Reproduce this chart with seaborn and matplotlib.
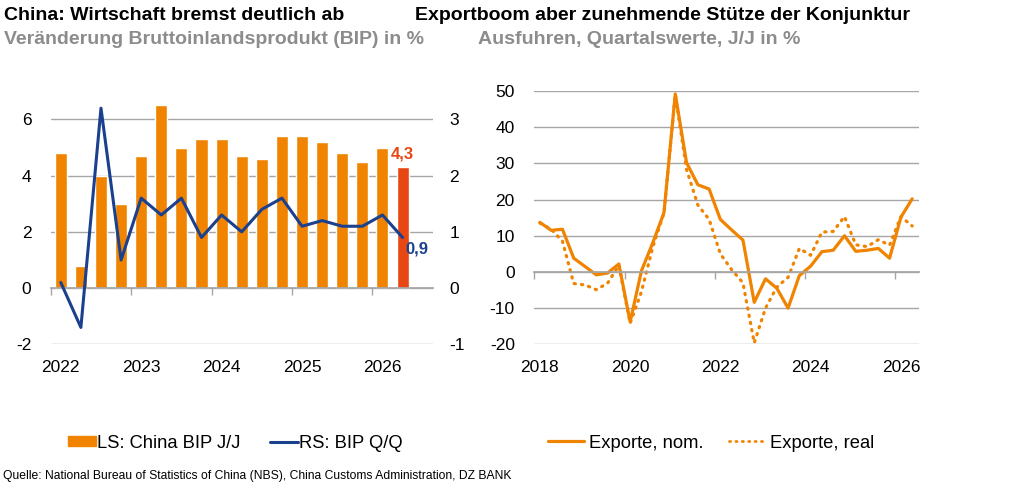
import matplotlib
matplotlib.use("Agg")
import matplotlib.pyplot as plt
import numpy as np
import pandas as pd
import seaborn as sns
from matplotlib.lines import Line2D
from matplotlib.patches import Patch

# Left chart: China GDP, quarterly 2022 Q1 .. 2026 Q2
bip_jj = [4.8, 0.8, 4.0, 3.0, 4.7, 6.5, 5.0, 5.3, 5.3, 4.7, 4.6, 5.4, 5.4, 5.2, 4.8, 4.5, 5.0, 4.3]
bip_qq = [0.1, -0.7, 3.2, 0.5, 1.6, 1.3, 1.6, 0.9, 1.3, 1.0, 1.4, 1.6, 1.1, 1.2, 1.1, 1.1, 1.3, 0.9]
left_years = ["2022", "2023", "2024", "2025", "2026"]

# Right chart: exports, quarterly 2018 Q1 .. 2026 Q2
exp_nom = [13.7, 11.5, 11.8, 3.8, 1.5, -0.8, -0.3, 2.2, -13.8, 0.3, 8.0, 16.4,
           49.2, 30.2, 24.1, 22.9, 14.5, 11.6, 8.8, -8.4, -1.9, -4.5, -10.0, -1.0,
           1.6, 5.6, 6.0, 10.0, 5.7, 6.0, 6.5, 3.8, 15.1, 20.2]
exp_real = [13.5, 11.8, 8.5, -3.2, -3.6, -4.9, -3.1, 1.8, -14.2, -5.5, 6.8, 16.3,
            49.0, 28.3, 18.5, 14.5, 5.0, 0.6, -3.0, -19.6, -10.0, -4.2, -1.5, 6.5,
            4.6, 11.0, 11.2, 15.3, 7.5, 7.0, 8.9, 7.4, 15.3, 12.7]
right_years = ["2018", "2020", "2022", "2024", "2026"]

ORANGE = "#F08300"
RED = "#E84612"
BLUE = "#1B408E"
GRID = "#A6A6A6"
GREY_TXT = "#8C8C8C"

sns.set_theme(style="white")
plt.rcParams["font.family"] = ["Liberation Sans", "DejaVu Sans"]
plt.rcParams["axes.unicode_minus"] = False
plt.rcParams["text.color"] = "black"
plt.rcParams["xtick.color"] = "black"
plt.rcParams["ytick.color"] = "black"

fig = plt.figure(figsize=(10.31, 4.93), dpi=100)
ax1 = fig.add_axes([0.0492, 0.3016, 0.3705, 0.5132])
ax3 = fig.add_axes([0.5182, 0.3016, 0.3731, 0.5138])

# ---- left chart ----
n_left = len(bip_jj)
df_left = pd.DataFrame({
    "q": np.arange(n_left),
    "jj": bip_jj,
    "qq": bip_qq,
    "last": ["alt"] * (n_left - 1) + ["neu"],
})
sns.barplot(data=df_left, x="q", y="jj", hue="last", palette={"alt": ORANGE, "neu": RED},
            width=0.6, dodge=False, legend=False, saturation=1, ax=ax1)
ax1.set_xlim(-0.5, n_left + 0.5)
ax1.set_ylim(-2, 7)
ax1.set_yticks([-2, 0, 2, 4, 6])

ax2 = ax1.twinx()
sns.lineplot(data=df_left, x="q", y="qq", color=BLUE, lw=2.2, ax=ax2)
ax2.set_ylim(-1, 3.5)
ax2.set_yticks([-1, 0, 1, 2, 3])
ax2.set_xlim(-0.5, n_left + 0.5)

for a in (ax1, ax2):
    a.set_xlabel("")
    a.set_ylabel("")
    for s in a.spines.values():
        s.set_visible(False)
    a.tick_params(axis="y", length=0, labelsize=12.5, colors="black")
ax1.tick_params(axis="y", pad=14)
ax2.tick_params(axis="y", pad=12)
ax1.grid(axis="y", color=GRID, lw=1)
ax1.set_axisbelow(True)

# zero line with year tick marks
ax1.spines["bottom"].set_visible(True)
ax1.spines["bottom"].set_position(("data", 0))
ax1.spines["bottom"].set_color(GRID)
ax1.set_xticks(np.arange(-0.5, n_left, 4))
ax1.tick_params(axis="x", length=5, width=1, color=GRID, labelbottom=False, bottom=True, direction="out")
sec1 = ax1.secondary_xaxis("bottom")
sec1.set_xticks(np.arange(0, n_left, 4), left_years)
sec1.spines["bottom"].set_visible(False)
sec1.tick_params(length=0, labelsize=12.5, pad=11, colors="black")

ax1.annotate("4,3", (n_left - 1, bip_jj[-1]), xytext=(0, 4), textcoords="offset points",
             ha="center", va="bottom", color=RED, fontsize=12, fontweight="bold")
ax2.annotate("0,9", (n_left - 1, bip_qq[-1]), xytext=(2, -3), textcoords="offset points",
             ha="left", va="top", color=BLUE, fontsize=12, fontweight="bold")

# ---- right chart ----
n_right = len(exp_nom)
df_right = pd.DataFrame({"q": np.arange(n_right), "nom": exp_nom, "real": exp_real})
sns.lineplot(data=df_right, x="q", y="real", color=ORANGE, lw=2.3, ax=ax3,
             linestyle=(0, (0.4, 1.9)), dash_capstyle="round")
sns.lineplot(data=df_right, x="q", y="nom", color=ORANGE, lw=2.3, ax=ax3)
ax3.set_xlim(-0.5, n_right - 0.5 + 0.1)
ax3.set_ylim(-20, 50)
ax3.set_yticks(np.arange(-20, 51, 10))
ax3.set_xlabel("")
ax3.set_ylabel("")
for s in ax3.spines.values():
    s.set_visible(False)
ax3.tick_params(axis="y", length=0, labelsize=12.5, pad=14, colors="black")
ax3.grid(axis="y", color=GRID, lw=1)
ax3.set_axisbelow(True)
ax3.spines["bottom"].set_visible(True)
ax3.spines["bottom"].set_position(("data", 0))
ax3.spines["bottom"].set_color(GRID)
ax3.set_xticks(np.arange(-0.5, n_right, 8))
ax3.tick_params(axis="x", length=5, width=1, color=GRID, labelbottom=False, bottom=True, direction="out")
sec3 = ax3.secondary_xaxis("bottom")
sec3.set_xticks(np.arange(0, n_right, 8), right_years)
sec3.spines["bottom"].set_visible(False)
sec3.tick_params(length=0, labelsize=12.5, pad=11, colors="black")

# ---- titles ----
fig.text(4 / 1031, 1 - 15 / 493, "China: Wirtschaft bremst deutlich ab", fontsize=14,
         fontweight="bold", va="center", ha="left", color="black")
fig.text(4 / 1031, 1 - 39 / 493, "Veränderung Bruttoinlandsprodukt (BIP) in %", fontsize=14,
         fontweight="bold", va="center", ha="left", color=GREY_TXT)
fig.text(415 / 1031, 1 - 15 / 493, "Exportboom aber zunehmende Stütze der Konjunktur", fontsize=14,
         fontweight="bold", va="center", ha="left", color="black")
fig.text(478 / 1031, 1 - 39 / 493, "Ausfuhren, Quartalswerte, J/J in %", fontsize=14,
         fontweight="bold", va="center", ha="left", color=GREY_TXT)

# ---- legends ----
leg_font = {"family": ["Liberation Sans Narrow", "Liberation Sans"], "size": 13.2}
h_left = [Patch(color=ORANGE, label="LS: China BIP J/J"),
          Line2D([], [], color=BLUE, lw=2.2, label="RS: BIP Q/Q")]
fig.legend(handles=h_left, loc="center left", bbox_to_anchor=(68 / 1031, 1 - 443 / 493),
           ncol=2, frameon=False, prop=leg_font, handlelength=1.5, handletextpad=0.1,
           columnspacing=1.6, handleheight=0.5, borderpad=0, borderaxespad=0)
h_right = [Line2D([], [], color=ORANGE, lw=2.3, label="Exporte, nom."),
           Line2D([], [], color=ORANGE, lw=2.0, linestyle=(0, (0.4, 1.9)),
                  dash_capstyle="round", label="Exporte, real")]
fig.legend(handles=h_right, loc="center left", bbox_to_anchor=(548 / 1031, 1 - 443 / 493),
           ncol=2, frameon=False, prop=leg_font, handlelength=1.95, handletextpad=0.28,
           columnspacing=1.4, borderpad=0, borderaxespad=0)

fig.text(3 / 1031, 1 - 476 / 493,
         "Quelle: National Bureau of Statistics of China (NBS), China Customs Administration, DZ BANK",
         fontsize=8.75, family=["Liberation Sans Narrow", "Liberation Sans"], va="center", ha="left",
         color="black")

fig.savefig("out.png", dpi=100)
